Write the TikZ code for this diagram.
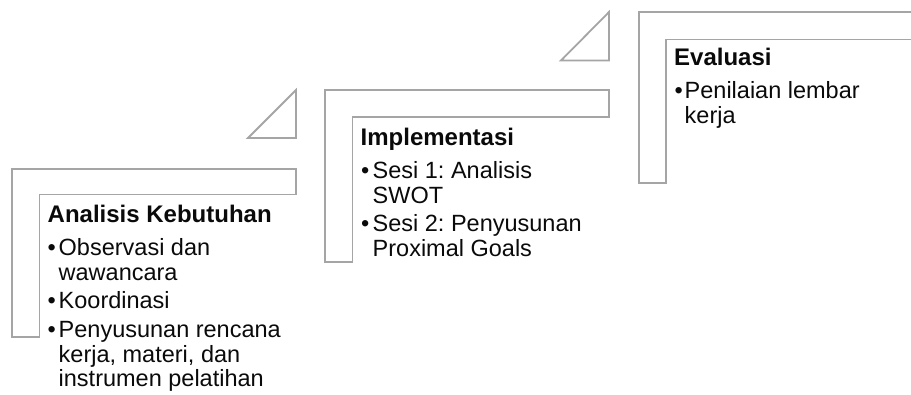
\documentclass[tikz,border=0pt]{standalone}
\usepackage{fontspec}
\setmainfont{Liberation Sans}
\definecolor{shapegray}{HTML}{A5A5A5}
\definecolor{txt}{HTML}{0A0A0A}
\frenchspacing
\begin{document}
\begin{tikzpicture}[x=1pt,y=-1pt,
  shp/.style={draw=shapegray, line width=1.8pt, fill=white, line join=miter},
  ttl/.style={anchor=base west, inner sep=0pt, font=\fontsize{24}{26}\selectfont\bfseries, text=txt},
  itm/.style={anchor=base west, inner sep=0pt, font=\fontsize{23.5}{26}\selectfont, text=txt}
]
\useasboundingbox (0,0) rectangle (911,394);
\clip (0,0) rectangle (911,394);
% step shapes
\draw[shp] (12,169) -- (296,169) -- (296,194.5) -- (39.5,194.5) -- (39.5,337) -- (12,337) -- cycle;
\draw[shp] (248,138) -- (296,138) -- (296,90) -- cycle;
\draw[shp] (325,90) -- (609,90) -- (609,117) -- (352.5,117) -- (352.5,262) -- (325,262) -- cycle;
\draw[shp] (561,60.5) -- (609,60.5) -- (609,12) -- cycle;
\draw[shp] (639,12) -- (923,12) -- (923,39.5) -- (666,39.5) -- (666,183) -- (639,183) -- cycle;
% step 1 text
\node[ttl] (t1) at (47.5,222) {Analisis Kebutuhan};
\node[itm] (b11) at (47.5,255.5) {•};
\node[itm] (l11) at (58.5,255.5) {Observasi dan};
\node[itm] (l12) at (58.5,280) {wawancara};
\node[itm] (b12) at (47.5,308.5) {•};
\node[itm] (l13) at (58.5,308.5) {Koordinasi};
\node[itm] (b13) at (47.5,337.5) {•};
\node[itm] (l14) at (58.5,337.5) {Penyusunan rencana};
\node[itm] (l15) at (58.5,362) {kerja, materi, dan};
\node[itm] (l16) at (58.5,386.5) {instrumen pelatihan};
% step 2 text
\node[ttl] (t2) at (360.5,145) {Implementasi};
\node[itm] (b21) at (361,178.5) {•};
\node[itm] (l21) at (372.5,178.5) {Sesi 1: Analisis};
\node[itm] (l22) at (372.5,203) {SWOT};
\node[itm] (b22) at (361,231) {•};
\node[itm] (l23) at (372.5,231) {Sesi 2: Penyusunan};
\node[itm] (l24) at (372.5,256) {Proximal Goals};
% step 3 text
\node[ttl] (t3) at (674,65.5) {Evaluasi};
\node[itm] (b31) at (674.5,98.5) {•};
\node[itm] (l31) at (684.5,98.5) {Penilaian lembar};
\node[itm] (l32) at (684.5,123) {kerja};
\end{tikzpicture}
\end{document}
